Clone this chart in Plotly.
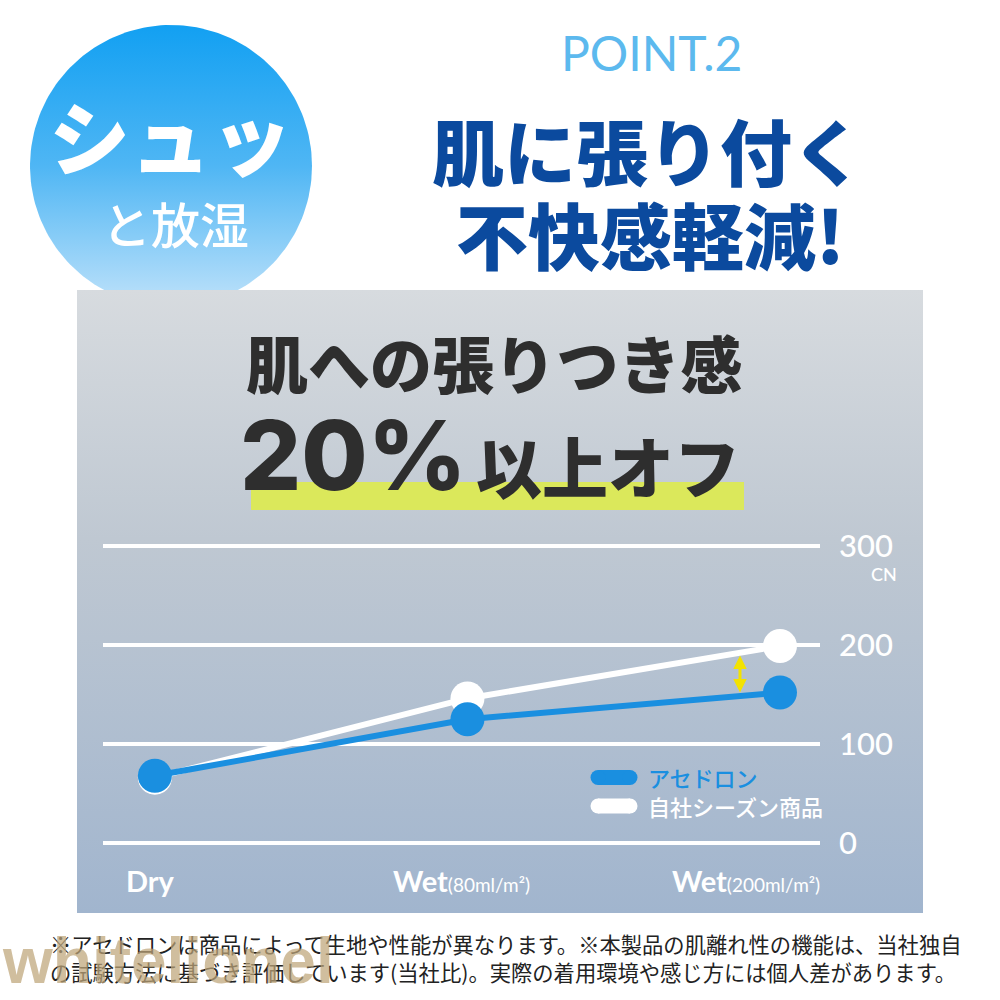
import numpy as np
import plotly.graph_objects as go

# ---------------- data ----------------
categories = ["Dry", "Wet(80ml/m²)", "Wet(200ml/m²)"]
cat_main = ["Dry", "Wet", "Wet"]
cat_sub = ["", "(80ml/m²)", "(200ml/m²)"]
series_names = ["アセドロン", "自社シーズン商品"]
acedoron = [68, 125, 152]
season = [66, 146, 199]
y_ticks = [0, 100, 200, 300]
y_unit = "CN"

# ---------------- styles ----------------
BLUE = "#1a8fe0"
WHITE = "#ffffff"
JP = "Noto Sans CJK JP"
LAT = "Lato"

fig = go.Figure()

# ---- decorative background on a pixel-space axis pair (x / y) ----
t = np.linspace(0, 2 * np.pi, 200)
cx, cy, r = 171, 166, 141
fig.add_trace(go.Scatter(
    x=cx + r * np.cos(t), y=cy + r * np.sin(t), mode="lines", fill="toself",
    line=dict(width=0), hoverinfo="skip", showlegend=False,
    fillgradient=dict(type="vertical", start=25, stop=307,
                      colorscale=[[0, "#12a0f2"], [0.5, "#4fb6f4"], [1, "#bfe2fa"]]),
    xaxis="x", yaxis="y"))

px0, px1, py0, py1 = 77, 923, 290, 913
fig.add_trace(go.Scatter(
    x=[px0, px1, px1, px0, px0], y=[py0, py0, py1, py1, py0], mode="lines",
    fill="toself", line=dict(width=0), hoverinfo="skip", showlegend=False,
    fillgradient=dict(type="vertical", start=py0, stop=py1,
                      colorscale=[[0, "#d7dbdf"], [0.4, "#bfc8d2"], [1, "#a1b5ce"]]),
    xaxis="x", yaxis="y"))

# legend pills
for i, (name, col) in enumerate(zip(series_names, [BLUE, WHITE])):
    yy = 777.5 + i * 28.5
    fig.add_trace(go.Scatter(
        x=[598, 630], y=[yy, yy], mode="lines+markers",
        line=dict(color=col, width=15), marker=dict(color=col, size=15),
        hoverinfo="skip", showlegend=False, xaxis="x", yaxis="y"))

# ---- chart (x2 / y2) ----
fig.add_trace(go.Scatter(
    x=categories, y=season, name=series_names[1], mode="lines+markers",
    line=dict(color=WHITE, width=6), marker=dict(color=WHITE, size=34),
    cliponaxis=False, showlegend=False, xaxis="x2", yaxis="y2"))
fig.add_trace(go.Scatter(
    x=categories, y=acedoron, name=series_names[0], mode="lines+markers",
    line=dict(color=BLUE, width=6), marker=dict(color=BLUE, size=34),
    cliponaxis=False, showlegend=False, xaxis="x2", yaxis="y2"))

ann = []
ann.append(dict(x=651, y=52, text="POINT.2", font=dict(family=LAT, size=48, color="#5cb9ee", weight=400)))
ann.append(dict(x=648, y=148, text="肌に張り付く", font=dict(family=JP, size=72, color="#0b4a9e", weight=900)))
ann.append(dict(x=650, y=232, text="不快感軽減!", font=dict(family=JP, size=72, color="#0b4a9e", weight=900)))
ann.append(dict(x=170, y=133, text="シュッ", font=dict(family=JP, size=81, color=WHITE, weight=900)))
ann.append(dict(x=175, y=222, text="と放湿", font=dict(family=JP, size=49, color=WHITE, weight=500)))
ann.append(dict(x=494, y=362, text="肌への張りつき感", font=dict(family=JP, size=62, color="#2e2e2e", weight=900)))
ann.append(dict(x=468, y=455, text="20%", xanchor="right", font=dict(family="Inter", size=96, color="#2e2e2e", weight=800)))
ann.append(dict(x=474, y=464, text="以上オフ", xanchor="left", font=dict(family=JP, size=66, color="#2e2e2e", weight=900)))
ann.append(dict(x=899, y=574, text=y_unit, xanchor="right", font=dict(family=LAT, size=18, color=WHITE, weight=500)))
for i, (name, col) in enumerate(zip(series_names, [BLUE, WHITE])):
    ann.append(dict(x=646, y=777 + i * 29, text=name, xanchor="left",
                    font=dict(family=JP, size=22, color=col, weight=500)))
ann.append(dict(x=506, y=957, text="※アセドロンは商品によって生地や性能が異なります。※本製品の肌離れ性の機能は、当社独自<br>"
                                   "の試験方法に基づき評価しています(当社比)。実際の着用環境や感じ方には個人差があります。",
                font=dict(family=JP, size=21.3, color="#222222"), align="left"))
ann.append(dict(x=0, y=999, text="whitelionel", xanchor="left", yanchor="bottom",
                font=dict(family="Liberation Sans Narrow, Liberation Sans", size=64,
                          color="rgba(190,165,120,0.72)", weight="bold")))

for a in ann:
    a.setdefault("xanchor", "center")
    a.setdefault("yanchor", "middle")
    a.update(xref="x", yref="y", showarrow=False)

for i, (c, m, s) in enumerate(zip(categories, cat_main, cat_sub)):
    txt = f"<b>{m}</b>" + (f"<span style='font-size:19px'>{s}</span>" if s else "")
    a = dict(x=c, xref="x2", y=880, yref="y", text=txt, showarrow=False,
             yanchor="middle", font=dict(family=LAT, size=29, color=WHITE))
    if i == len(categories) - 1:
        a.update(xanchor="right", xshift=42)
    elif i == 0:
        a.update(xanchor="center", xshift=-4)
    else:
        a.update(xanchor="center", xshift=-6)
    ann.append(a)

# yellow double arrow showing the gap
ann.append(dict(x=1.872, y=152, xref="x2", yref="y2", ax=1.872, ay=191, axref="x2", ayref="y2",
                text="", showarrow=True, arrowside="end+start", arrowhead=2, arrowsize=0.9,
                arrowwidth=3, arrowcolor="#f3e200"))

shapes = [dict(type="rect", xref="x", yref="y", x0=251, x1=744, y0=482, y1=510,
               fillcolor="#dbe85b", line=dict(width=0), layer="above")]

y_top_px, y_bot_px = 546, 843
ppu = (y_bot_px - y_top_px) / 300
yr = [-5, 305]
dom_top = y_top_px - (yr[1] - 300) * ppu
dom_bot = y_bot_px + (0 - yr[0]) * ppu

fig.update_layout(
    template="none",
    width=1000, height=1000, margin=dict(l=0, r=0, t=0, b=0, pad=0), autosize=False,
    paper_bgcolor="white", plot_bgcolor="rgba(0,0,0,0)", showlegend=False,
    xaxis=dict(domain=[0, 1], range=[0, 1000], visible=False, fixedrange=True, automargin=False),
    yaxis=dict(domain=[0, 1], range=[1000, 0], visible=False, fixedrange=True, automargin=False),
    xaxis2=dict(domain=[0.103, 0.820], range=[-0.166, 2.128], type="category", automargin=False,
                anchor="y2", showgrid=False, showticklabels=False, zeroline=False, showline=False),
    yaxis2=dict(domain=[1 - dom_bot / 1000, 1 - dom_top / 1000], range=yr, anchor="x2",
                side="right", tickvals=y_ticks, showgrid=True, gridcolor=WHITE, gridwidth=4,
                zeroline=False, showline=False, ticks="", ticklabelstandoff=18, automargin=False,
                tickfont=dict(family=LAT, size=31, color=WHITE, weight=500)),
    annotations=ann, shapes=shapes,
)

fig.write_html("out.html", config={"displayModeBar": False},
               post_script="document.body.style.margin='0';document.body.style.overflow='hidden';")
